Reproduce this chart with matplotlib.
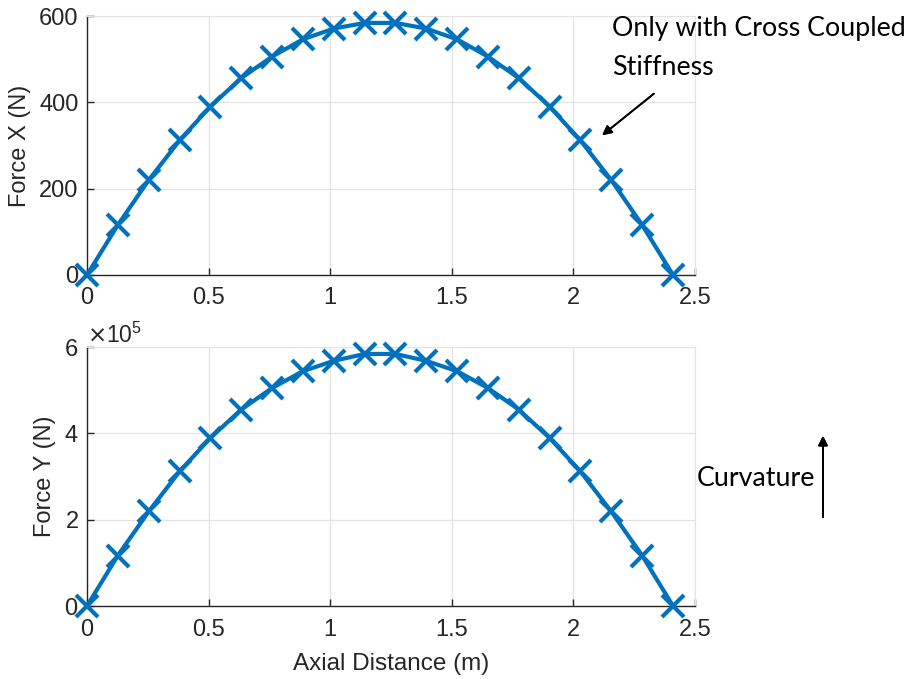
import matplotlib.pyplot as plt
import matplotlib.ticker as mticker
import numpy as np

# axial positions (m) of the computed nodes
axial_dist = [0.0, 0.127, 0.254, 0.381, 0.507, 0.634, 0.761, 0.888, 1.015, 1.142,
              1.268, 1.395, 1.522, 1.649, 1.776, 1.903, 2.029, 2.156, 2.283, 2.41]
# force in x (N)
force_x = [0, 116, 220, 312, 390, 456, 506, 546, 571, 584,
           584, 571, 546, 506, 456, 390, 312, 220, 116, 0]
# force in y (N)
force_y = [0, 1.17e5, 2.19e5, 3.12e5, 3.89e5, 4.55e5, 5.05e5, 5.44e5, 5.68e5, 5.84e5,
           5.84e5, 5.68e5, 5.44e5, 5.05e5, 4.55e5, 3.89e5, 3.12e5, 2.19e5, 1.17e5, 0]

blue = '#0072BD'
dark = '#262626'

plt.rcParams['font.family'] = ['Liberation Sans', 'DejaVu Sans']

fig = plt.figure(figsize=(9.06, 6.79), dpi=100)
ax1 = fig.add_axes([0.096, 0.595, 0.671, 0.3814])
ax2 = fig.add_axes([0.096, 0.1075, 0.671, 0.3814])

for ax, yv, ymax, label in [(ax1, force_x, 600, 'Force X (N)'), (ax2, force_y, 6e5, 'Force Y (N)')]:
    ax.plot(axial_dist, yv, color=blue, lw=3.0, marker='x', ms=16, mew=3.0, clip_on=False, zorder=3)
    ax.set_xlim(0, 2.5)
    ax.set_ylim(0, ymax)
    ax.set_xticks([0, 0.5, 1, 1.5, 2, 2.5])
    ax.set_xticklabels(['0', '0.5', '1', '1.5', '2', '2.5'])
    ax.grid(True, color='#e3e3e3', lw=0.9)
    ax.set_axisbelow(True)
    for s in ['top', 'right']:
        ax.spines[s].set_color('#e3e3e3')
    for s in ['left', 'bottom']:
        ax.spines[s].set_color(dark)
        ax.spines[s].set_linewidth(1.0)
    ax.tick_params(direction='in', length=5, width=1, colors=dark, labelsize=17, pad=9,
                   top=False, right=False)
    ax.tick_params(axis='y', pad=6)
    ax.set_ylabel(label, fontsize=17, color=dark, labelpad=6)

ax1.set_yticks([0, 200, 400, 600])
ax2.set_yticks([0, 2e5, 4e5, 6e5])
fmt = mticker.ScalarFormatter(useMathText=True)
fmt.set_powerlimits((0, 0))
ax2.yaxis.set_major_formatter(fmt)
ax2.yaxis.get_offset_text().set_fontsize(16.5)
ax2.yaxis.get_offset_text().set_color(dark)
ax2.set_xlabel('Axial Distance (m)', fontsize=17.5, color=dark, labelpad=9)

fig.text(612 / 906, 1 - 16 / 679, 'Only with Cross Coupled\nStiffness', fontsize=19.3,
         family=['Lato', 'DejaVu Sans'], va='top', ha='left', linespacing=1.7, color='black')
fig.add_artist(plt.annotate('', xy=(600 / 906, 1 - 137 / 679), xytext=(656 / 906, 1 - 92 / 679),
                            xycoords='figure fraction', textcoords='figure fraction',
                            arrowprops=dict(arrowstyle='-|>', color='black', lw=1.3, mutation_scale=14)))

fig.text(697 / 906, 1 - 478 / 679, 'Curvature', fontsize=19.3, family=['Lato', 'DejaVu Sans'],
         va='center', ha='left', color='black')
fig.add_artist(plt.annotate('', xy=(823 / 906, 1 - 433 / 679), xytext=(823 / 906, 1 - 520 / 679),
                            xycoords='figure fraction', textcoords='figure fraction',
                            arrowprops=dict(arrowstyle='-|>', color='black', lw=1.3, mutation_scale=14)))

plt.savefig('out.png', dpi=100)
